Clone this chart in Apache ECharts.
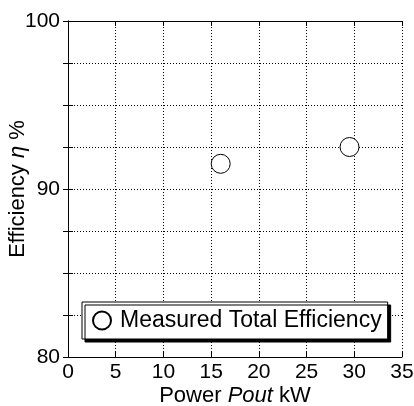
<!DOCTYPE html>
<html>
<head>
<meta charset="utf-8"/>
<script src="https://cdn.jsdelivr.net/npm/echarts@6/dist/echarts.min.js"></script>
<style>
  body{margin:0;background:#fff;}
  #chart{width:414px;height:406px;}
</style>
</head>
<body>
<div id="chart"></div>
<script>
var powerKW = [16, 29.5];
var efficiency = [91.5, 92.5];
var seriesName = 'Measured Total Efficiency';
var yLabels = [80, 90, 100];

var font = 'Liberation Sans, Arial, sans-serif';
var chart = echarts.init(document.getElementById('chart'));

var pts = [];
for (var i = 0; i < powerKW.length; i++) {
  pts.push([powerKW[i], efficiency[i]]);
}

var tickStyle = {show: true, inside: true, length: 5, lineStyle: {color: '#000', width: 1}};
var lineStyle = {show: true, lineStyle: {color: '#000', width: 1}};
var gridStyle = {show: true, lineStyle: {color: '#000', width: 1, type: [1, 2]}};

chart.setOption({
  animation: false,
  grid: {left: 68, top: 21, right: 12, bottom: 49, containLabel: false, outerBoundsMode: 'none'},
  legend: {
    left: 82, top: 302,
    padding: [7, 6, 7, 10],
    data: [seriesName],
    icon: 'circle',
    itemWidth: 26, itemHeight: 18,
    backgroundColor: '#fff',
    borderColor: '#000', borderWidth: 1,
    shadowColor: '#000', shadowOffsetX: 3, shadowOffsetY: 3, shadowBlur: 0,
    textStyle: {fontFamily: font, fontSize: 23, color: '#000', lineHeight: 22}
  },
  xAxis: [{
    type: 'value', min: 0, max: 35, interval: 5,
    name: 'Power {i|Pout} kW', nameLocation: 'middle', nameGap: 28, nameMoveOverlap: false,
    nameTextStyle: {fontFamily: font, fontSize: 22, color: '#000',
      rich: {i: {fontFamily: font, fontSize: 22, fontStyle: 'italic', color: '#000'}}},
    axisLine: lineStyle, axisTick: tickStyle, splitLine: gridStyle,
    axisLabel: {fontFamily: font, fontSize: 21, color: '#000', margin: 5}
  }, {
    type: 'value', min: 0, max: 35, interval: 5, position: 'top',
    axisLine: lineStyle, axisTick: tickStyle, splitLine: {show: false},
    axisLabel: {show: false}
  }],
  yAxis: [{
    type: 'value', min: 80, max: 100, interval: 2.5,
    name: 'Efficiency {i|η} %', nameLocation: 'middle', nameGap: 39, nameMoveOverlap: false,
    nameTextStyle: {fontFamily: font, fontSize: 22, color: '#000',
      rich: {i: {fontFamily: font, fontSize: 22, fontStyle: 'italic', color: '#000'}}},
    axisLine: lineStyle, axisTick: tickStyle, splitLine: gridStyle,
    axisLabel: {fontFamily: font, fontSize: 21, color: '#000', margin: 8,
      formatter: function (v) { return yLabels.indexOf(v) >= 0 ? String(v) : ''; }}
  }, {
    type: 'value', min: 80, max: 100, interval: 2.5, position: 'right',
    axisLine: lineStyle, axisTick: tickStyle, splitLine: {show: false},
    axisLabel: {show: false}
  }],
  series: [{
    name: seriesName,
    type: 'scatter',
    symbol: 'circle',
    symbolSize: 19,
    itemStyle: {color: '#fff', borderColor: '#000', borderWidth: 1, opacity: 1},
    data: pts
  }]
});
</script>
</body>
</html>
